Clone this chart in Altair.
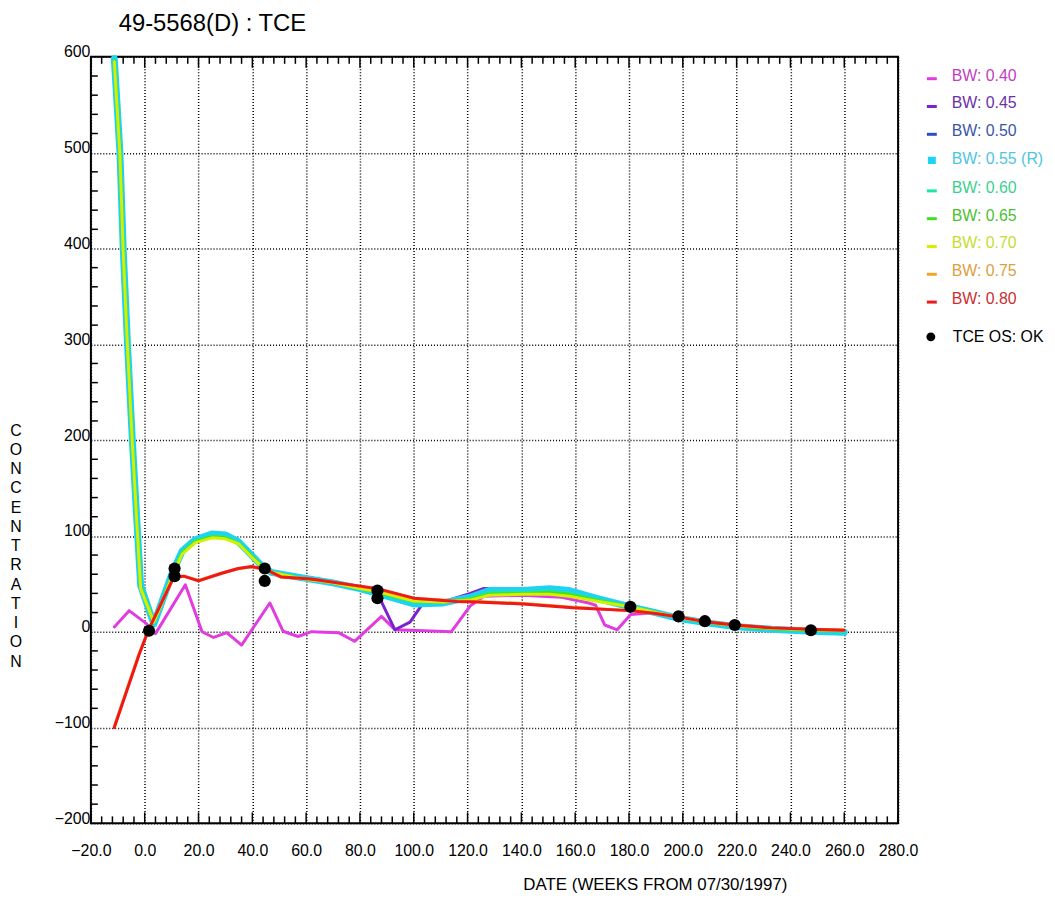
import altair as alt
import pandas as pd

TITLE = "49-5568(D) : TCE"
X_TITLE = "DATE (WEEKS FROM 07/30/1997)"
Y_TITLE = "CONCENTRATION"

BW_LABELS = ["BW: 0.40", "BW: 0.45", "BW: 0.50", "BW: 0.55 (R)", "BW: 0.60",
             "BW: 0.65", "BW: 0.70", "BW: 0.75", "BW: 0.80"]
LINE_COLORS = ["#e03ce0", "#7a22d0", "#2a4cc8", "#1ed2f2", "#1ee8a0",
               "#3ee01e", "#d4f000", "#f0a428", "#f01818"]
LABEL_COLORS = ["#c040c0", "#6a30a8", "#3a56a8", "#4cc6e0", "#3ccf90",
                "#4cbf30", "#c8dc30", "#dca040", "#c83030"]
LINE_WIDTHS = [3, 3, 3, 7, 3, 3, 3, 3, 3]

X_TICKS = list(range(-20, 281, 20))
Y_TICKS = list(range(-200, 601, 100))

# main smoothing bundle (shared dates)
X_MAIN = [-11.3, -9.2, -8.0, -6.4, -4.6, -2.6, -1.5, 3.4, 7.0, 10.2, 13.9, 18.8, 25.0,
          29.9, 34.8, 39.7, 43.4, 47.0, 57.0, 70.0, 80.0, 86.5, 100.0, 111.0, 121.0,
          128.0, 140.6, 150.4, 157.8, 167.6, 180.5, 189.8, 198.4, 208.2, 219.3,
          233.0, 247.6, 260.0]
Y_050 = [598, 500, 400, 300, 200, 100, 48, 8, 36, 61, 84, 96, 101, 100, 94, 80, 69,
         62, 57, 51, 45, 40, 30, 30, 35, 42, 42, 44, 42, 35, 26, 20, 14, 9.5, 5.5,
         2.5, 0.5, 0]
Y_055 = [598, 500, 400, 300, 200, 100, 48, 8, 36, 61, 84, 96, 102, 101, 94, 80, 69,
         62, 57, 51, 45, 40, 29, 30, 36, 43, 43, 45, 43, 35, 26, 20, 14, 9.5, 5.5,
         2.5, 0.5, -0.5]
Y_060 = [597, 499, 399, 299, 199, 99, 47, 9, 35, 60, 83, 95, 100, 99, 93, 79, 69,
         62, 57, 51, 45, 41, 31, 31, 35, 41, 41, 42, 40, 34, 26, 20, 15, 10, 6, 3,
         1, 0.5]
Y_065 = [596, 498, 398, 298, 198, 98, 46, 10, 35, 59, 82, 94, 99, 98, 92, 79, 69,
         62, 56, 51, 45, 41, 32, 31, 34, 39, 40, 41, 39, 33, 26, 20, 15, 10, 6, 3,
         1.5, 1]
Y_070 = [595, 497, 397, 297, 197, 97, 45, 10, 34, 58, 81, 93, 98, 97, 92, 78, 68,
         62, 56, 51, 45, 42, 32, 31, 33, 38, 39, 39, 37, 32, 26, 20, 15, 10.5, 6.5,
         3.5, 2, 1.5]

X_045 = [-11.3, -9.2, -8.0, -6.4, -4.6, -2.6, -1.5, 3.4, 7.0, 10.2, 13.9, 18.8, 25.0,
         29.9, 34.8, 39.7, 43.4, 47.0, 57.0, 70.0, 80.0, 86.5, 93.0, 98.6, 103.0,
         111.0, 121.0, 125.8, 135.0, 140.6, 150.4, 157.8, 167.6, 180.5, 189.8,
         198.4, 208.2, 219.3, 233.0, 247.6, 260.0]
Y_045 = [598, 500, 400, 300, 200, 100, 48, 8, 36, 61, 84, 96, 102, 101, 94, 80, 69,
         62, 57, 51, 45, 40, 2, 10, 28, 31, 40, 45, 45, 43, 44, 42, 35, 26, 20, 14,
         9.5, 5.5, 2.5, 0.5, -0.5]

X_040 = [-11.3, -5.8, 0.4, 4.0, 15.1, 21.3, 25.6, 30.5, 36.0, 46.5, 51.4, 57.0, 62.0,
         72.0, 78.0, 88.0, 93.0, 104.0, 114.0, 121.0, 126.0, 140.0, 155.0, 165.0,
         167.6, 171.0, 175.6, 180.6, 189.8, 198.4, 208.2, 219.3, 233.0, 247.6, 260.0]
Y_040 = [5, 22, 9, -2, 49, 0, -6, -1, -14, 30, 0.5, -5, 0, -1, -10, 16, 2, 1, 0, 27,
         37, 38, 36, 30, 27.6, 7, 2, 18, 20, 15, 10, 6.5, 3.5, 2, 1]

X_080 = [-11.3, -2.1, 1.6, 10.8, 14.5, 20.0, 28.6, 34.8, 39.7, 44.6, 50.8, 61.8, 86.5,
         100.0, 116.0, 123.4, 140.6, 159.0, 180.5, 189.8, 198.4, 208.2, 219.3, 233.0,
         247.6, 260.0]
Y_075 = [-99, -23, 3.5, 57, 58, 53.5, 61, 66, 67.5, 65, 57, 55, 44.5, 35, 32, 31.5,
         29.5, 25.5, 22, 19, 15.5, 10.5, 7, 4, 2.5, 1.5]
Y_080 = [-100, -24, 3, 57, 58, 53, 61, 66, 68, 65.5, 57, 55, 45, 35, 31.5, 31, 29,
         25, 22, 19, 15.5, 10.5, 7, 4, 2.5, 1.5]

OS_LABEL = "TCE OS: OK"
X_OS = [1.6, 11.1, 11.1, 44.6, 44.6, 86.5, 86.5, 180.5, 198.4, 208.2, 219.3, 247.6]
Y_OS = [1, 66, 58, 66, 53, 43, 35, 26, 16, 11, 7, 1.5]

SERIES = [(X_040, Y_040), (X_045, Y_045), (X_MAIN, Y_050), (X_MAIN, Y_055),
          (X_MAIN, Y_060), (X_MAIN, Y_065), (X_MAIN, Y_070), (X_080, Y_075),
          (X_080, Y_080)]

rows = []
for lab, (xs, ys) in zip(BW_LABELS, SERIES):
    for i, (xv, yv) in enumerate(zip(xs, ys)):
        rows.append({"bw": lab, "x": xv, "y": yv, "i": i})
lines_df = pd.DataFrame(rows)
os_df = pd.DataFrame({"x": X_OS, "y": Y_OS, "lab": [OS_LABEL] * len(X_OS)})

# axis decoration positions
minor_x = pd.DataFrame({"x": [v for v in range(-20, 281, 4) if v % 20 != 0]})
major_x = pd.DataFrame({"x": X_TICKS})
minor_y = pd.DataFrame({"y": [v for v in range(-200, 601, 20) if v % 100 != 0]})

W, H = 813, 772
FONT = "Liberation Sans, Arial, sans-serif"

x_scale = alt.Scale(domain=[-20, 280], nice=False, zero=False)
y_scale = alt.Scale(domain=[-200, 600], nice=False, zero=False)

x_enc = alt.X("x:Q", scale=x_scale, axis=alt.Axis(
    values=X_TICKS, format=".1f", title=X_TITLE, grid=True, gridColor="#000000",
    gridDash=[1, 2], gridWidth=1.5, ticks=False, domain=False,
    labelFont=FONT, labelFontSize=16, labelColor="#000000", labelPadding=19,
    labelFlush=False, labelOverlap=False,
    titleFont=FONT, titleFontSize=17, titleFontWeight="normal", titleColor="#000000",
    titleX=568, titleY=62, titleAlign="center", titleBaseline="middle"))
y_enc = alt.Y("y:Q", scale=y_scale, axis=alt.Axis(
    values=Y_TICKS, format="d", title=list(Y_TITLE), grid=True, gridColor="#000000",
    gridDash=[1, 2], gridWidth=1.5, ticks=False, domain=False,
    labelFont=FONT, labelFontSize=16, labelColor="#000000", labelPadding=1,
    labelBaseline="alphabetic", labelFlush=False, labelOverlap=False,
    titleFont=FONT, titleFontSize=16, titleFontWeight="normal", titleColor="#000000",
    titleAngle=0, titleX=-76, titleY=368, titleAlign="center", titleBaseline="top",
    titleLineHeight=19.4))

label_color_expr = ("[" + ",".join("'%s'" % c for c in LABEL_COLORS) + "][indexof(["
                    + ",".join("'%s'" % b for b in BW_LABELS) + "], datum.label)]")
# reference series gets a taller block symbol, the others a short dash
symbol_expr = ("datum.label == 'BW: 0.55 (R)' ? 'M-0.8,-0.2H0.8M-0.8,0.25H0.8M-0.8,0.7H0.8'"
               " : 'M-1,0.6H1'")

color_enc = alt.Color("bw:N", scale=alt.Scale(domain=BW_LABELS, range=LINE_COLORS),
                      legend=alt.Legend(
                          title=None, orient="none", legendX=839, legendY=11,
                          symbolType=alt.ExprRef(expr=symbol_expr), symbolSize=100,
                          symbolStrokeWidth=3,
                          labelColor=alt.ExprRef(expr=label_color_expr),
                          labelFont=FONT, labelFontSize=16, labelOffset=12,
                          rowPadding=11, padding=0))

layers = []
for lab, w in zip(BW_LABELS, LINE_WIDTHS):
    layers.append(
        alt.Chart(lines_df).transform_filter(alt.datum.bw == lab)
        .mark_line(strokeJoin="round", strokeCap="round")
        .encode(x=x_enc, y=y_enc, color=color_enc, order="i:Q",
                strokeWidth=alt.value(w))
    )

points = alt.Chart(os_df).mark_circle(size=150, opacity=1).encode(
    x=x_enc, y=y_enc,
    fill=alt.Fill("lab:N", scale=alt.Scale(domain=[OS_LABEL], range=["#000000"]),
                  legend=alt.Legend(title=None, orient="none", legendX=838, legendY=274,
                                    symbolType="circle", symbolSize=80,
                                    labelColor="#000000", labelFont=FONT,
                                    labelFontSize=16, labelOffset=14, padding=0)))

tick_style = dict(color="#000000", strokeWidth=1.5)
top_minor = alt.Chart(minor_x).mark_rule(**tick_style).encode(
    x=x_enc, y=alt.value(0), y2=alt.value(7))
top_major = alt.Chart(major_x).mark_rule(**tick_style).encode(
    x=x_enc, y=alt.value(0), y2=alt.value(11))
bot_minor = alt.Chart(minor_x).mark_rule(**tick_style).encode(
    x=x_enc, y=alt.value(H), y2=alt.value(H - 7))
bot_major = alt.Chart(major_x).mark_rule(**tick_style).encode(
    x=x_enc, y=alt.value(H), y2=alt.value(H - 11))
left_minor = alt.Chart(minor_y).mark_rule(**tick_style).encode(
    y=y_enc, x=alt.value(0), x2=alt.value(7))

chart = alt.layer(
    top_minor, top_major, bot_minor, bot_major, left_minor, *layers, points
).properties(
    width=W, height=H,
    background="white",
    title=alt.TitleParams(TITLE, anchor="start", frame="group", dx=28, fontSize=24,
                          font=FONT, fontWeight="normal", color="#000000", offset=8),
    autosize=alt.AutoSizeParams(type="none"),
    padding={"left": 83.5, "top": 46, "right": 150, "bottom": 73},
).configure_view(stroke="#000000", strokeWidth=2)

chart.save("out.html", embed_options={"renderer": "svg", "actions": False})
